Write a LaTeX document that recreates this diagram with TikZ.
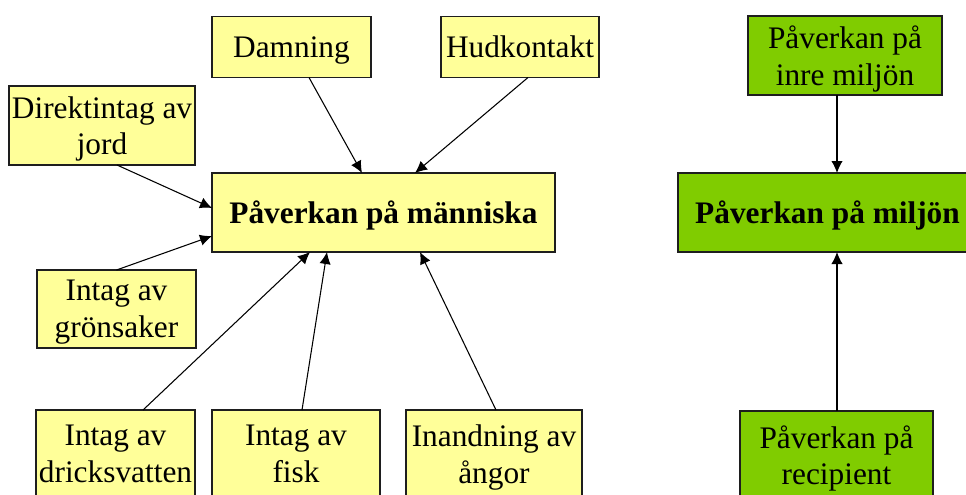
\documentclass[tikz,border=0pt]{standalone}
\usepackage{fontspec}
\setmainfont{Liberation Serif}
\usetikzlibrary{arrows.meta,calc}
\definecolor{boxyellow}{RGB}{255,255,153}
\definecolor{boxgreen}{RGB}{128,204,0}
\definecolor{edgecol}{RGB}{30,30,30}
\begin{document}
\begin{tikzpicture}[x=0.75pt,y=-0.75pt,
  base/.style={draw=edgecol,line width=0.9pt,inner sep=0pt,outer sep=0pt,align=center,
    text depth=0pt,font=\fontsize{23.5}{27.5}\selectfont,text=black},
  ybox/.style={base,fill=boxyellow},
  gbox/.style={base,fill=boxgreen},
  conn/.style={line width=0.8pt,-{Latex[length=9pt,width=8.5pt]}}]
\useasboundingbox (0,0) rectangle (966,494);
\clip (0,0) rectangle (966,494);
\fill[white] (0,0) rectangle (966,494);
% yellow boxes
\node[ybox,minimum width=159*0.75pt,minimum height=61*0.75pt] (dam) at (291.5,47) {Damning};
\node[ybox,minimum width=158*0.75pt,minimum height=61*0.75pt] (hud) at (520,47) {Hudkontakt};
\node[ybox,minimum width=186*0.75pt,minimum height=79*0.75pt] (dir) at (102,125.5) {Direktintag av\\jord};
\node[ybox,minimum width=343*0.75pt,minimum height=79*0.75pt,font=\fontsize{23.5}{27.5}\selectfont\bfseries] (men) at (383.5,212.5) {Påverkan på människa};
\node[ybox,minimum width=159*0.75pt,minimum height=78*0.75pt] (gron) at (116.5,309) {Intag av\\grönsaker};
\node[ybox,minimum width=159*0.75pt,minimum height=88*0.75pt] (dricks) at (115.5,454) {Intag av\\dricksvatten};
\node[ybox,minimum width=168*0.75pt,minimum height=88*0.75pt] (fisk) at (296,454) {Intag av\\fisk};
\node[ybox,minimum width=176*0.75pt,minimum height=88*0.75pt] (angor) at (494,454) {Inandning av\\ångor};
% green boxes
\node[gbox,minimum width=194*0.75pt,minimum height=79*0.75pt] (inre) at (845,55.5) {Påverkan på\\inre miljön};
\node[gbox,minimum width=299*0.75pt,minimum height=79*0.75pt,font=\fontsize{23.5}{27.5}\selectfont\bfseries] (milj) at (827.5,212.5) {Påverkan på miljön};
\node[gbox,minimum width=193*0.75pt,minimum height=88*0.75pt] (recip) at (836.5,455) {Påverkan på\\recipient};
% connectors
\draw[conn] ($(dir.south)+(15,0)$) -- ($(men.west)+(0,-4.5)$);
\draw[conn] (gron.north) -- ($(men.west)+(0,23.5)$);
\draw[conn] ($(dam.south)+(17.5,0)$) -- ($(men.north)+(-21.5,0)$);
\draw[conn] ($(hud.south)+(8,0)$) -- ($(men.north)+(31.5,0)$);
\draw[conn] ($(dricks.north)+(27.5,0)$) -- ($(men.south)+(-73.5,0)$);
\draw[conn] ($(fisk.north)+(6,0)$) -- ($(men.south)+(-56.5,0)$);
\draw[conn] ($(angor.north)+(2,0)$) -- ($(men.south)+(36.5,0)$);
\draw[conn] ($(inre.south)+(-8,0)$) -- ($(milj.north)+(9.5,0)$);
\draw[conn] ($(recip.north)+(0.5,0)$) -- ($(milj.south)+(9.5,0)$);
\end{tikzpicture}
\end{document}
